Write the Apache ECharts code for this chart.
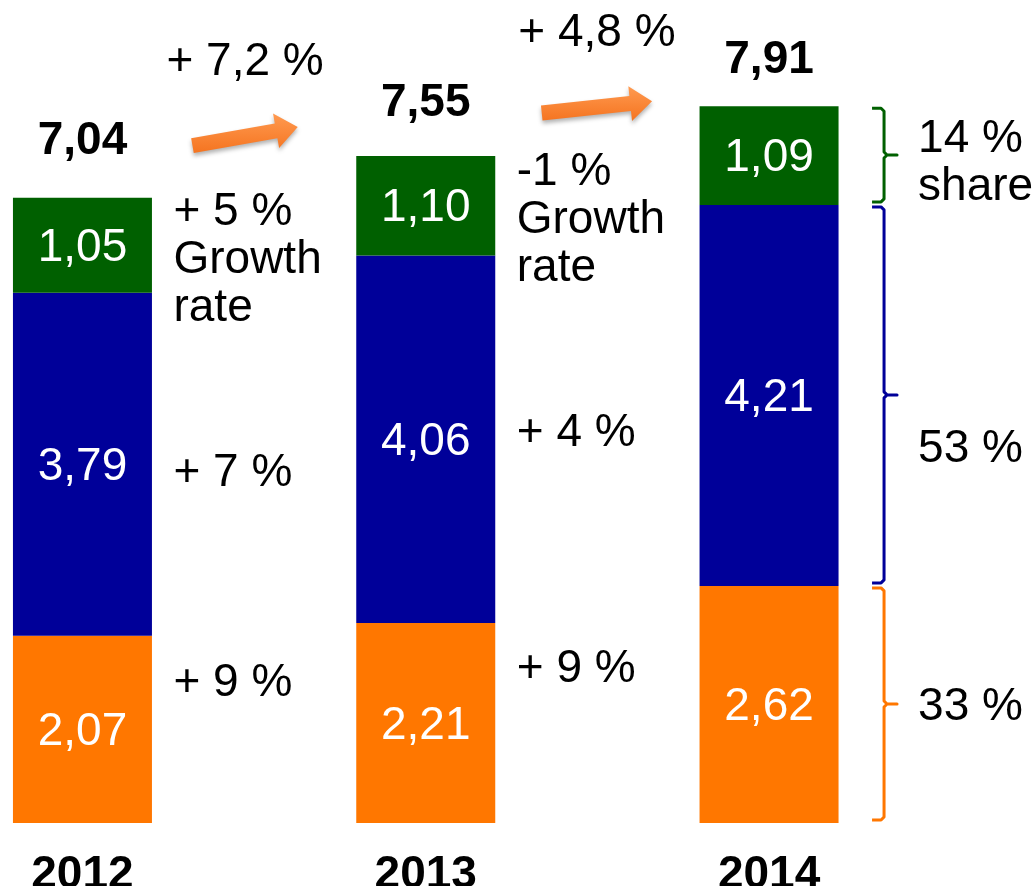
<!DOCTYPE html>
<html>
<head>
<meta charset="utf-8">
<script src="https://cdn.jsdelivr.net/npm/echarts@6/dist/echarts.min.js"></script>
<style>
  html, body { margin: 0; padding: 0; background: #fff; }
  #chart { width: 1036px; height: 886px; }
</style>
</head>
<body>
<div id="chart"></div>
<script>
const years = ['2012', '2013', '2014'];
const orangeValues = [2.07, 2.21, 2.62];
const blueValues = [3.79, 4.06, 4.21];
const greenValues = [1.05, 1.10, 1.09];
const totals = [7.04, 7.55, 7.91];
const growthOrange = ['+ 9 %', '+ 9 %'];
const growthBlue = ['+ 7 %', '+ 4 %'];
const growthGreen = ['+ 5 %\nGrowth\nrate', '-1 %\nGrowth\nrate'];
const totalGrowth = ['+ 7,2 %', '+ 4,8 %'];
const shares2014 = ['33 %', '53 %', '14 %\nshare'];

const ORANGE = '#FF7700';
const BLUE = '#000099';
const GREEN = '#006000';
const FONT = '"Liberation Sans", Arial, sans-serif';

// pixel nudges for the annotations (text placement only)
const totalDy = [-56, -53, -46];
const growthDy = [[-46, 9, 15], [-54, -6, 15]]; // orange, blue, green
const arrowTail = [[110, -52], [116, -43]];
const arrowTip = [[-128, -29], [-117, -5]];
const shareDy = [3, 54, 8];

const stacks = [orangeValues, blueValues, greenValues];
const colors = [ORANGE, BLUE, GREEN];
const growthTexts = [growthOrange, growthBlue, growthGreen];

function fmt(v) {
  return v.toFixed(2).replace('.', ',');
}
function segBase(s, i) {
  let b = 0;
  for (let k = 0; k < s; k++) b += stacks[k][i];
  return b;
}
function stackTop(i) {
  return segBase(3, i);
}

function txt(x, y, text, opts) {
  return {
    type: 'text', x: x, y: y,
    style: Object.assign({
      text: text, fill: '#000', fontSize: 46, fontFamily: FONT,
      align: 'left', verticalAlign: 'middle', lineHeight: 48
    }, opts || {})
  };
}

function barSeries(s, name) {
  return {
    name: name,
    type: 'bar',
    stack: 'total',
    barWidth: 139,
    data: stacks[s],
    itemStyle: { color: colors[s] },
    label: {
      show: true,
      position: 'inside',
      offset: [0, 3],
      color: '#fff',
      fontSize: 46,
      fontFamily: FONT,
      formatter: p => fmt(p.value)
    }
  };
}

const growthData = [];
for (let i = 0; i < 2; i++) {
  for (let s = 0; s < 3; s++) {
    growthData.push([i, segBase(s, i) + stacks[s][i] / 2, s]);
  }
}
const totalData = years.map((y, i) => [i, stackTop(i)]);
const arrowData = [[0, stackTop(0)], [1, stackTop(1)]];
const shareData = [0, 1, 2].map(s => [2, segBase(s, 2), segBase(s, 2) + stacks[s][2], s]);

const chart = echarts.init(document.getElementById('chart'));
chart.setOption({
  animation: false,
  grid: { left: -89.2, right: 95.3, top: 8.5, bottom: 63, outerBoundsMode: 'none' },
  xAxis: {
    type: 'category',
    data: years,
    axisLine: { show: false },
    axisTick: { show: false },
    axisLabel: {
      color: '#000',
      fontFamily: FONT,
      fontSize: 46,
      fontWeight: 'bold',
      margin: 29
    }
  },
  yAxis: { type: 'value', min: 0, max: 9, show: false },
  series: [
    barSeries(0, 'orange'),
    barSeries(1, 'blue'),
    barSeries(2, 'green'),
    {
      type: 'custom',
      name: 'totals',
      data: totalData,
      renderItem: function (params, api) {
        const i = api.value(0);
        const p = api.coord([i, api.value(1)]);
        return txt(p[0], p[1] + totalDy[i], fmt(totals[i]), { align: 'center', fontWeight: 'bold' });
      }
    },
    {
      type: 'custom',
      name: 'growth',
      data: growthData,
      renderItem: function (params, api) {
        const i = api.value(0);
        const s = api.value(2);
        const p = api.coord([i, api.value(1)]);
        return txt(p[0] + 91, p[1] + growthDy[i][s], growthTexts[s][i]);
      }
    },
    {
      type: 'custom',
      name: 'arrows',
      data: arrowData,
      renderItem: function (params, api) {
        const i = api.value(0);
        const p0 = api.coord([i, stackTop(i)]);
        const p1 = api.coord([i + 1, stackTop(i + 1)]);
        const t = [p0[0] + arrowTail[i][0], p0[1] + arrowTail[i][1]];
        const h = [p1[0] + arrowTip[i][0], p1[1] + arrowTip[i][1]];
        const len = Math.hypot(h[0] - t[0], h[1] - t[1]);
        const ux = (h[0] - t[0]) / len, uy = (h[1] - t[1]) / len;
        const nx = -uy, ny = ux;
        const hw = 7.5, hh = 17.5, hl = 22;
        const b = [h[0] - ux * hl, h[1] - uy * hl];
        const pts = [
          [t[0] + nx * hw, t[1] + ny * hw],
          [b[0] + nx * hw, b[1] + ny * hw],
          [b[0] + nx * hh, b[1] + ny * hh],
          h,
          [b[0] - nx * hh, b[1] - ny * hh],
          [b[0] - nx * hw, b[1] - ny * hw],
          [t[0] - nx * hw, t[1] - ny * hw]
        ];
        const mx = (t[0] + h[0]) / 2, my = (t[1] + h[1]) / 2;
        return {
          type: 'group',
          children: [
            {
              type: 'polygon',
              shape: { points: pts },
              style: {
                fill: new echarts.graphic.LinearGradient(0, 0, 0, 1, [
                  { offset: 0, color: '#FF9A50' },
                  { offset: 1, color: '#F57420' }
                ]),
                shadowColor: 'rgba(0,0,0,0.3)',
                shadowBlur: 4,
                shadowOffsetY: 3
              }
            },
            txt(mx, my - 74, totalGrowth[i], { align: 'center' })
          ]
        };
      }
    },
    {
      type: 'custom',
      name: 'shares',
      data: shareData,
      renderItem: function (params, api) {
        const s = api.value(3);
        const pb = api.coord([api.value(0), api.value(1)]);
        const pt = api.coord([api.value(0), api.value(2)]);
        const x = pb[0] + 115;
        const top = pt[1] + 2, bot = pb[1] - 3, mid = (top + bot) / 2;
        return {
          type: 'group',
          children: [
            {
              type: 'polyline',
              shape: {
                points: [
                  [x - 12, top], [x - 3, top], [x, top + 3], [x, mid - 3],
                  [x + 3, mid], [x + 13, mid], [x + 3, mid], [x, mid + 3],
                  [x, bot - 3], [x - 3, bot], [x - 12, bot]
                ]
              },
              style: { stroke: colors[s], lineWidth: 3, fill: null, lineJoin: 'round' }
            },
            txt(pb[0] + 149, mid + shareDy[s], shares2014[s])
          ]
        };
      }
    }
  ]
});
</script>
</body>
</html>
